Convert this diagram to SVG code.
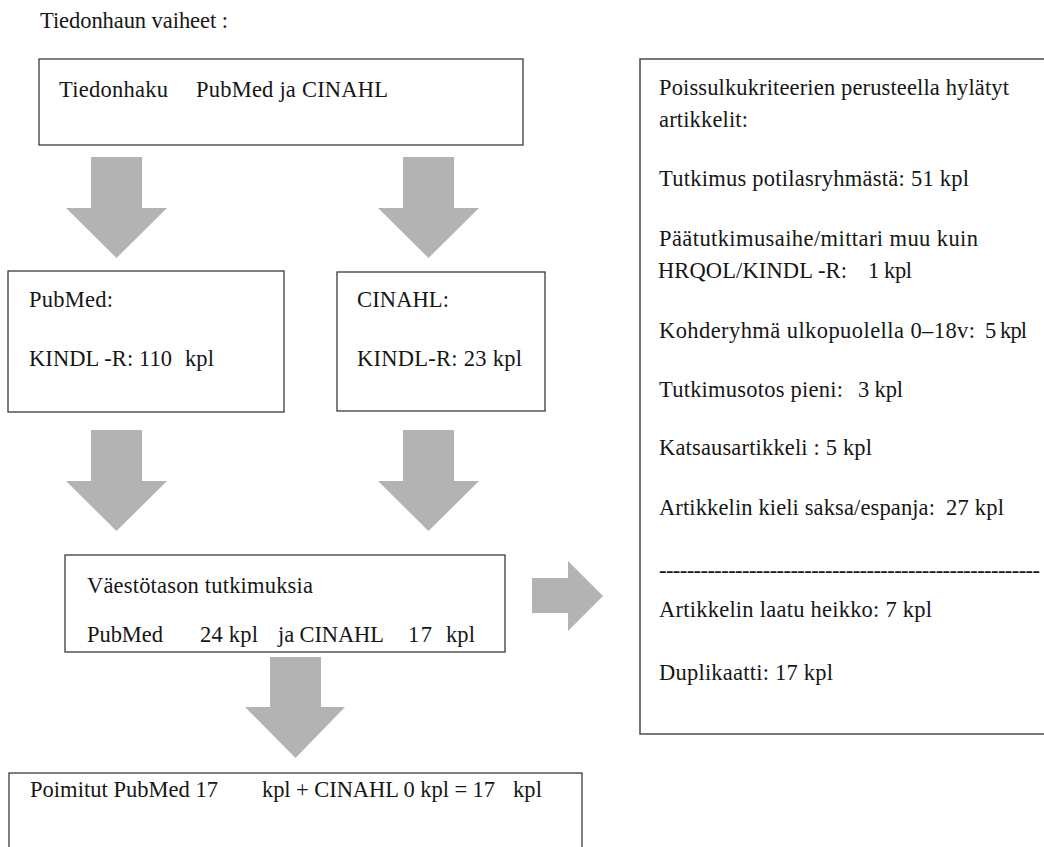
<svg xmlns="http://www.w3.org/2000/svg" width="1044" height="847" viewBox="0 0 1044 847">
<style>
.t{font-size:22.5px;fill:#161616}
.box{fill:#fff;stroke:#3a3a3a;stroke-width:1.3}
.arr{fill:#b3b3b3;stroke:none}
</style>
<rect width="1044" height="847" fill="#fff"/>
<g font-family="'Liberation Serif', 'DejaVu Serif', serif">
<text class="t" x="40" y="28" textLength="188" lengthAdjust="spacing">Tiedonhaun vaiheet :</text>

<g id="connectors">
<path class="arr" d="M91,157 h51 v51 h25 L116.5,258 L66,208 h25 z"/>
<path class="arr" d="M403,157 h51 v51 h25 L428.5,258 L378,208 h25 z"/>
<path class="arr" d="M91,430 h51 v51 h25 L116.5,531 L66,481 h25 z"/>
<path class="arr" d="M403,430 h51 v51 h25 L428.5,531 L378,481 h25 z"/>
<path class="arr" d="M270,657 h51 v50 h24 L295.5,758 L245,707 h25 z"/>
<path class="arr" d="M532,578 h36 v-17 L603,596 L568,631 v-18 h-36 z"/>
</g>

<g id="search">
<rect class="box" x="39" y="59" width="484" height="86"/>
<text class="t" x="59" y="97" textLength="109" lengthAdjust="spacing">Tiedonhaku</text>
<text class="t" x="196" y="97" textLength="192" lengthAdjust="spacing">PubMed ja CINAHL</text>
</g>

<g id="pubmed">
<rect class="box" x="8" y="271" width="276" height="141"/>
<text class="t" x="29" y="307" textLength="84" lengthAdjust="spacing">PubMed:</text>
<text class="t" x="29" y="366" textLength="143" lengthAdjust="spacing">KINDL -R: 110</text>
<text class="t" x="185" y="366" textLength="29" lengthAdjust="spacing">kpl</text>
</g>

<g id="cinahl">
<rect class="box" x="337" y="272" width="208" height="139"/>
<text class="t" x="357" y="307" textLength="92" lengthAdjust="spacing">CINAHL:</text>
<text class="t" x="357" y="366" textLength="165" lengthAdjust="spacing">KINDL-R: 23 kpl</text>
</g>

<g id="population">
<rect class="box" x="65" y="555" width="440" height="97"/>
<text class="t" x="87" y="593" textLength="226" lengthAdjust="spacing">Väestötason tutkimuksia</text>
<text class="t" x="87" y="642" textLength="76" lengthAdjust="spacing">PubMed</text>
<text class="t" x="200" y="642" textLength="58" lengthAdjust="spacing">24 kpl</text>
<text class="t" x="278" y="642" textLength="106" lengthAdjust="spacing">ja CINAHL</text>
<text class="t" x="408" y="642" textLength="24" lengthAdjust="spacing">17</text>
<text class="t" x="446" y="642" textLength="29" lengthAdjust="spacing">kpl</text>
</g>

<g id="selected">
<rect class="box" x="9" y="773" width="573" height="100"/>
<text class="t" x="30" y="797" textLength="188" lengthAdjust="spacing">Poimitut PubMed 17</text>
<text class="t" x="262" y="797" textLength="233" lengthAdjust="spacing">kpl + CINAHL 0 kpl = 17</text>
<text class="t" x="513" y="797" textLength="29" lengthAdjust="spacing">kpl</text>
</g>

<g id="excluded">
<rect class="box" x="640" y="59" width="420" height="675" style="stroke:#4a4a4a;stroke-width:1.5"/>
<text class="t" x="659" y="95" textLength="350" lengthAdjust="spacing">Poissulkukriteerien perusteella hylätyt</text>
<text class="t" x="659" y="127" textLength="89" lengthAdjust="spacing">artikkelit:</text>
<text class="t" x="659" y="186" textLength="310" lengthAdjust="spacing">Tutkimus potilasryhmästä: 51 kpl</text>
<text class="t" x="659" y="246" textLength="319" lengthAdjust="spacing">Päätutkimusaihe/mittari muu kuin</text>
<text class="t" x="658" y="278" textLength="189" lengthAdjust="spacing">HRQOL/KINDL -R:</text>
<text class="t" x="868" y="278" textLength="44" lengthAdjust="spacing">1 kpl</text>
<text class="t" x="659" y="338" textLength="316" lengthAdjust="spacing">Kohderyhmä ulkopuolella 0–18v:</text>
<text class="t" x="985" y="338" textLength="42" lengthAdjust="spacing">5 kpl</text>
<text class="t" x="659" y="397" textLength="184" lengthAdjust="spacing">Tutkimusotos pieni:</text>
<text class="t" x="858" y="397" textLength="45" lengthAdjust="spacing">3 kpl</text>
<text class="t" x="659" y="455" textLength="213" lengthAdjust="spacing">Katsausartikkeli : 5 kpl</text>
<text class="t" x="659" y="515" textLength="276" lengthAdjust="spacing">Artikkelin kieli saksa/espanja:</text>
<text class="t" x="946" y="515" textLength="58" lengthAdjust="spacing">27 kpl</text>
<text class="t" x="659" y="578" textLength="381" lengthAdjust="spacing">-------------------------------------------------------</text>
<text class="t" x="659" y="617" textLength="273" lengthAdjust="spacing">Artikkelin laatu heikko: 7 kpl</text>
<text class="t" x="659" y="680" textLength="174" lengthAdjust="spacing">Duplikaatti: 17 kpl</text>
</g>
</g>
</svg>
